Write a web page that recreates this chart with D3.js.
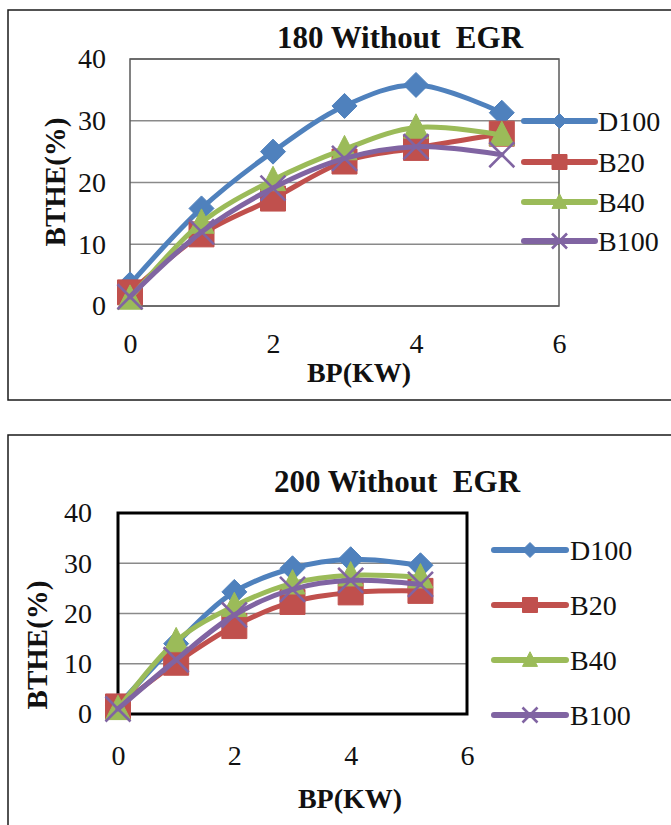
<!DOCTYPE html>
<html><head><meta charset="utf-8">
<script src="https://cdn.jsdelivr.net/npm/d3@7"></script>
<style>body{margin:0;background:#fff}svg{display:block}
svg text{font-family:"Liberation Serif","DejaVu Serif","Times New Roman",serif;}</style>
</head><body><svg id="c" width="671" height="825"></svg>
<script>
// ---------- data ----------
const bp = [0, 1, 2, 3, 4, 5.2];
const seriesNames = ["D100", "B20", "B40", "B100"];
const xTicks = [0, 2, 4, 6];
const yTicks = [0, 10, 20, 30, 40];
const chartTitles = ["180 Without  EGR", "200 Without  EGR"];
const xTitle = "BP(KW)";
const yTitle = "BTHE(%)";

const bthe180_D100 = [3.5, 15.8, 25.0, 32.4, 35.8, 31.3];
const bthe180_B20  = [2.2, 11.6, 17.4, 23.4, 25.6, 27.9];
const bthe180_B40  = [1.2, 13.5, 20.4, 25.4, 28.9, 27.7];
const bthe180_B100 = [1.5, 12.0, 19.1, 23.9, 25.8, 24.5];

const bthe200_D100 = [1.6, 14.0, 24.3, 29.0, 30.8, 29.6];
const bthe200_B20  = [1.5, 10.2, 17.5, 22.3, 24.2, 24.5];
const bthe200_B40  = [1.0, 14.5, 21.5, 26.0, 27.6, 27.2];
const bthe200_B100 = [1.0, 10.8, 19.7, 24.8, 26.6, 25.8];

// ---------- styling ----------
const colors = ["#4F81BD", "#C0504D", "#9BBB59", "#8064A2"];
const markers = ["diamond", "square", "triangle", "x"];
const FONT = '"Liberation Serif","DejaVu Serif","Times New Roman",serif';

const layouts = [
  { box: [8, 10, 700, 390], plot: {l: 130, t: 59, r: 559, b: 306},
    title: [400, 48], ylab: [65, 182], xlab: [359, 382],
    legend: {x1: 524, x2: 595, tx: 598, ys: [121, 162, 202, 241]},
    ytickX: 106, xtickPad: 27, border: ["#5a5a5a", 1.5],
    data: [bthe180_D100, bthe180_B20, bthe180_B40, bthe180_B100] },
  { box: [8, 435, 700, 420], plot: {l: 118, t: 513, r: 467, b: 714},
    title: [397, 492], ylab: [47, 645], xlab: [350, 808],
    legend: {x1: 494, x2: 566, tx: 570, ys: [550, 605, 660, 715]},
    ytickX: 92, xtickPad: 31, border: ["#000", 3],
    data: [bthe200_D100, bthe200_B20, bthe200_B40, bthe200_B100] }
];

function markerPath(type, s) {
  switch (type) {
    case "diamond": return `M0,${-s}L${s},0L0,${s}L${-s},0Z`;
    case "square": return `M${-s},${-s}H${s}V${s}H${-s}Z`;
    case "triangle": return `M0,${-s*1.1}L${s},${s*0.85}L${-s},${s*0.85}Z`;
    case "x": return `M${-s},${-s}L${s},${s}M${s},${-s}L${-s},${s}`;
  }
}
function drawMarker(g, type, color, cx, cy, s) {
  const p = g.append("path").attr("d", markerPath(type, s))
    .attr("transform", `translate(${cx},${cy})`);
  if (type === "x") p.attr("fill", "none").attr("stroke", color).attr("stroke-width", 2.6);
  else p.attr("fill", color).attr("stroke", color).attr("stroke-width", 1);
}
function styleText(sel, size, bold) {
  sel.style("font-family", FONT).style("font-size", size + "px")
    .style("font-weight", bold ? "bold" : "normal").attr("fill", "#111");
}

const svg = d3.select("#c");
svg.append("rect").attr("width", 671).attr("height", 825).attr("fill", "#fff");

chartTitles.forEach((title, ci) => {
  const L = layouts[ci];
  const g = svg.append("g");
  g.append("rect").attr("x", L.box[0]).attr("y", L.box[1]).attr("width", L.box[2]).attr("height", L.box[3])
    .attr("fill", "#fff").attr("stroke", "#1a1a1a").attr("stroke-width", 1.5);

  const x = d3.scaleLinear().domain([0, 6]).range([L.plot.l, L.plot.r]);
  const y = d3.scaleLinear().domain([0, 40]).range([L.plot.b, L.plot.t]);

  // gridlines
  g.append("g").selectAll("line").data(yTicks).join("line")
    .attr("x1", L.plot.l).attr("x2", L.plot.r)
    .attr("y1", d => y(d)).attr("y2", d => y(d))
    .attr("stroke", "#8a8a8a").attr("stroke-width", 1.6);
  // plot border
  g.append("rect").attr("x", L.plot.l).attr("y", L.plot.t)
    .attr("width", L.plot.r - L.plot.l).attr("height", L.plot.b - L.plot.t)
    .attr("fill", "none").attr("stroke", L.border[0]).attr("stroke-width", L.border[1]);

  // axes
  const ya = g.append("g").attr("transform", `translate(${L.ytickX},0)`)
    .call(d3.axisLeft(y).tickValues(yTicks).tickSize(0).tickPadding(0).tickFormat(d3.format("d")));
  ya.attr("font-family", null).attr("font-size", null);
  ya.select(".domain").remove();
  styleText(ya.selectAll("text"), 28, false);

  const xa = g.append("g").attr("transform", `translate(0,${L.plot.b})`)
    .call(d3.axisBottom(x).tickValues(xTicks).tickSize(0).tickPadding(L.xtickPad).tickFormat(d3.format("d")));
  xa.attr("font-family", null).attr("font-size", null);
  xa.select(".domain").remove();
  styleText(xa.selectAll("text"), 28, false);

  // titles
  styleText(g.append("text").attr("x", L.title[0]).attr("y", L.title[1]).attr("text-anchor", "middle")
    .style("white-space", "pre").text(title), 31, true);
  styleText(g.append("text").attr("transform", `translate(${L.ylab[0]},${L.ylab[1]}) rotate(-90)`)
    .attr("text-anchor", "middle").text(yTitle), 29, true);
  styleText(g.append("text").attr("x", L.xlab[0]).attr("y", L.xlab[1]).attr("text-anchor", "middle")
    .text(xTitle), 28, true);

  // series
  const line = d3.line().x(d => x(d[0])).y(d => y(d[1])).curve(d3.curveCatmullRom.alpha(0.5));
  seriesNames.forEach((name, si) => {
    const pts = bp.map((b, i) => [b, L.data[si][i]]);
    const sg = g.append("g");
    sg.append("path").attr("d", line(pts)).attr("fill", "none")
      .attr("stroke", colors[si]).attr("stroke-width", 5)
      .attr("stroke-linejoin", "round").attr("stroke-linecap", "round");
    pts.forEach(p => drawMarker(sg, markers[si], colors[si], x(p[0]), y(p[1]), 12.5));
  });

  // legend
  seriesNames.forEach((name, si) => {
    const ly = L.legend.ys[si];
    const lg = g.append("g");
    lg.append("line").attr("x1", L.legend.x1).attr("x2", L.legend.x2).attr("y1", ly).attr("y2", ly)
      .attr("stroke", colors[si]).attr("stroke-width", 6).attr("stroke-linecap", "round");
    drawMarker(lg, markers[si], colors[si], (L.legend.x1 + L.legend.x2) / 2, ly, 7.5);
    styleText(lg.append("text").attr("x", L.legend.tx).attr("y", ly + 10).text(name), 28, false);
  });
});
</script>
</body></html>
